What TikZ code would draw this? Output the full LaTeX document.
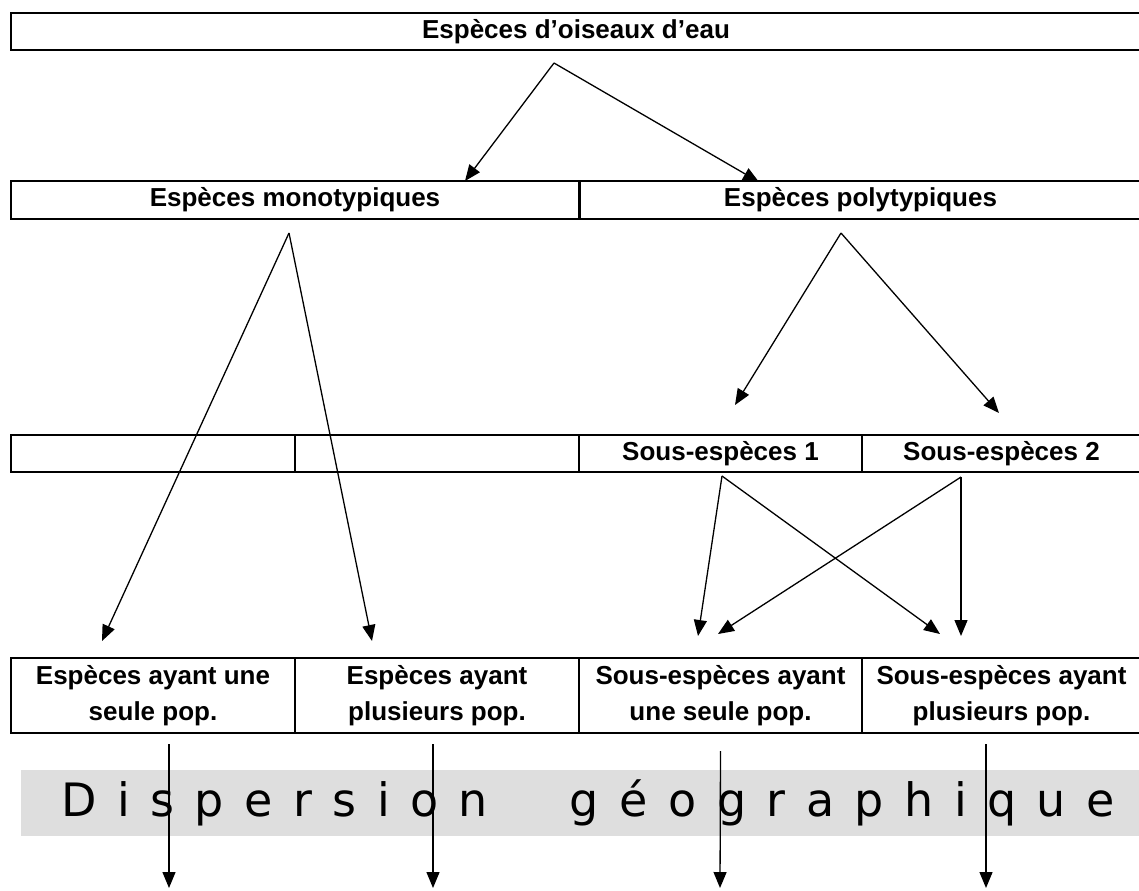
\documentclass[tikz,border=0pt]{standalone}
\usepackage{fontspec}
\setmainfont{Liberation Sans}
\newfontfamily\dispfont{DejaVu Sans}[WordSpace=1.4]
\usetikzlibrary{arrows.meta}
\definecolor{bandgrey}{HTML}{DEDEDE}

\begin{document}
\begin{tikzpicture}[x=0.5pt,y=-0.5pt,
    cell/.style={draw,line width=1.2pt,inner sep=0pt,align=center,
      font=\bfseries\fontsize{13}{18}\selectfont},
    arr/.style={-{Triangle[length=8pt,width=6.5pt]},line width=0.65pt}]
  \useasboundingbox (0,0) rectangle (1139,890);
  % rows of boxes
  \node[cell,minimum width=565pt,minimum height=18.5pt] (oiseaux) at (576,31.5) {Espèces d’oiseaux d’eau};
  \node[cell,minimum width=284pt,minimum height=19pt] (mono) at (295,200) {Espèces monotypiques};
  \node[cell,minimum width=281pt,minimum height=19pt] (poly) at (860.5,200) {Espèces polytypiques};
  \node[cell,minimum width=142pt,minimum height=18.5pt] (vide1) at (153,453.5) {};
  \node[cell,minimum width=142pt,minimum height=18.5pt] (vide2) at (437,453.5) {};
  \node[cell,minimum width=141.5pt,minimum height=18.5pt] (sous1) at (720.5,453.5) {Sous-espèces 1};
  \node[cell,minimum width=139.5pt,minimum height=18.5pt] (sous2) at (1001.5,453.5) {Sous-espèces 2};
  \node[cell,minimum width=142pt,minimum height=37.5pt] (monoun) at (153,695.5) {Espèces ayant une\\seule pop.};
  \node[cell,minimum width=142pt,minimum height=37.5pt] (monoplus) at (437,695.5) {Espèces ayant\\plusieurs pop.};
  \node[cell,minimum width=141.5pt,minimum height=37.5pt] (sousun) at (720.5,695.5) {Sous-espèces ayant\\une seule pop.};
  \node[cell,minimum width=139.5pt,minimum height=37.5pt] (sousplus) at (1001.5,695.5) {Sous-espèces ayant\\plusieurs pop.};
  % grey band
  \fill[bandgrey] (21,770) rectangle (1141,836);
  \node[font=\dispfont\fontsize{23}{23}\selectfont,inner sep=0pt] (disp) at (588,803)
    {D i s p e r s i o n~~~~g é o g r a p h i q u e};
  % arrow ends
  \coordinate (a0) at (554,63);
  \coordinate (t0a) at (465,181);
  \coordinate (t0b) at (759,182);
  \coordinate (a1) at (289,233);
  \coordinate (t1a) at (102,641);
  \coordinate (t1b) at (372,641);
  \coordinate (a2) at (841,233);
  \coordinate (t2a) at (735,405);
  \coordinate (t2b) at (999,413);
  \coordinate (a3) at (722,476);
  \coordinate (a4) at (961,477);
  \coordinate (t3a) at (698,636);
  \coordinate (t3b) at (940,634);
  \coordinate (t4a) at (718,634);
  \coordinate (t4b) at (961,636);
  \begin{scope}[arr]
    \draw (a0) -- (t0a);
    \draw (a0) -- (t0b);
    \draw (a1) -- (t1a);
    \draw (a1) -- (t1b);
    \draw (a2) -- (t2a);
    \draw (a2) -- (t2b);
    \draw (a3) -- (t3a);
    \draw (a3) -- (t3b);
    \draw (a4) -- (t4a);
    \draw (a4) -- (t4b);
    \draw (monoun.south -| 169,0) ++(0,10) -- (169,888);
    \draw (monoplus.south -| 433,0) ++(0,10) -- (433,888);
    \draw (sousun.south) ++(0,17) -- (720,888);
    \draw (sousplus.south -| 986,0) ++(0,10) -- (986,888);
  \end{scope}
\end{tikzpicture}
\end{document}
